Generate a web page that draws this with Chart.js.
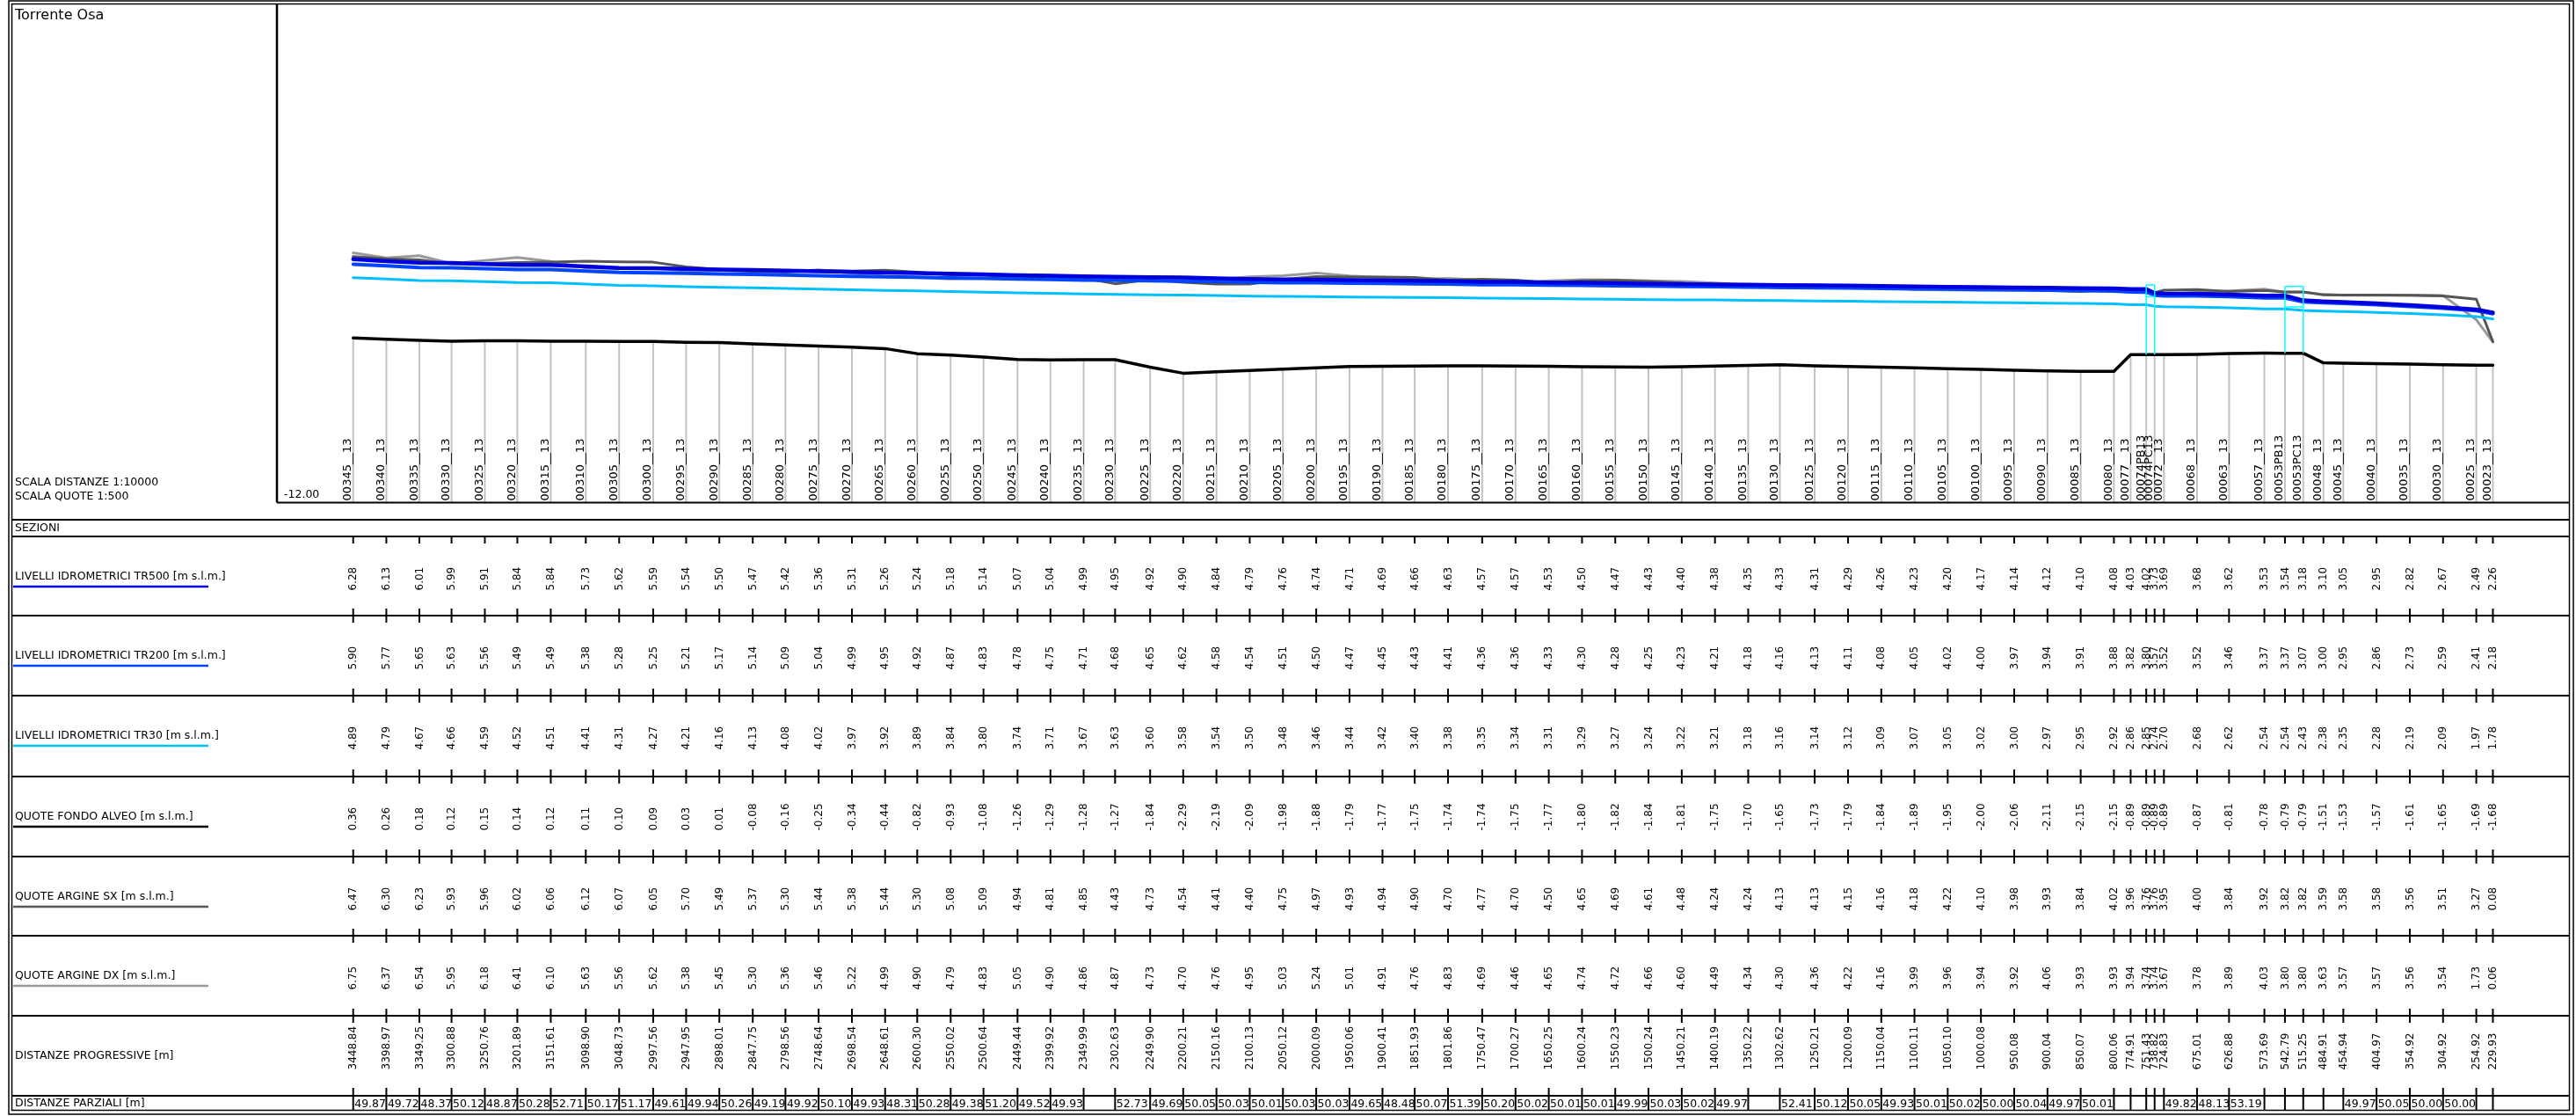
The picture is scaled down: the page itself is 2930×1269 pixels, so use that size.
<!DOCTYPE html>
<html>
<head>
<meta charset="utf-8">
<title>Torrente Osa - profilo longitudinale</title>
<script src="https://cdn.jsdelivr.net/npm/chart.js@4.4.1/dist/chart.umd.min.js"></script>
<style>
  html, body { margin: 0; padding: 0; background: #fff; }
  canvas { display: block; }
</style>
</head>
<body>
<canvas id="profilo" width="2930" height="1269"></canvas>
<script>
  const sezioni = ['00345__13', '00340__13', '00335__13', '00330__13', '00325__13', '00320__13', '00315__13', '00310__13', '00305__13', '00300__13',
    '00295__13', '00290__13', '00285__13', '00280__13', '00275__13', '00270__13', '00265__13', '00260__13', '00255__13', '00250__13',
    '00245__13', '00240__13', '00235__13', '00230__13', '00225__13', '00220__13', '00215__13', '00210__13', '00205__13', '00200__13',
    '00195__13', '00190__13', '00185__13', '00180__13', '00175__13', '00170__13', '00165__13', '00160__13', '00155__13', '00150__13',
    '00145__13', '00140__13', '00135__13', '00130__13', '00125__13', '00120__13', '00115__13', '00110__13', '00105__13', '00100__13',
    '00095__13', '00090__13', '00085__13', '00080__13', '00077__13', '00074PB13', '00074PC13', '00072__13', '00068__13', '00063__13',
    '00057__13', '00053PB13', '00053PC13', '00048__13', '00045__13', '00040__13', '00035__13', '00030__13', '00025__13', '00023__13'];

  const progressive = [3448.84, 3398.97, 3349.25, 3300.88, 3250.76, 3201.89, 3151.61, 3098.90, 3048.73, 2997.56,
    2947.95, 2898.01, 2847.75, 2798.56, 2748.64, 2698.54, 2648.61, 2600.30, 2550.02, 2500.64,
    2449.44, 2399.92, 2349.99, 2302.63, 2249.90, 2200.21, 2150.16, 2100.13, 2050.12, 2000.09,
    1950.06, 1900.41, 1851.93, 1801.86, 1750.47, 1700.27, 1650.25, 1600.24, 1550.23, 1500.24,
    1450.21, 1400.19, 1350.22, 1302.62, 1250.21, 1200.09, 1150.04, 1100.11, 1050.10, 1000.08,
    950.08, 900.04, 850.07, 800.06, 774.91, 751.43, 738.82, 724.83, 675.01, 626.88,
    573.69, 542.79, 515.25, 484.91, 454.94, 404.97, 354.92, 304.92, 254.92, 229.93];

  // distanze parziali (null = cella vuota nella tavola)
  const parziali = [49.87, 49.72, 48.37, 50.12, 48.87, 50.28, 52.71, 50.17, 51.17, 49.61,
    49.94, 50.26, 49.19, 49.92, 50.10, 49.93, 48.31, 50.28, 49.38, 51.20,
    49.52, 49.93, null, 52.73, 49.69, 50.05, 50.03, 50.01, 50.03, 50.03,
    49.65, 48.48, 50.07, 51.39, 50.20, 50.02, 50.01, 50.01, 49.99, 50.03,
    50.02, 49.97, null, 52.41, 50.12, 50.05, 49.93, 50.01, 50.02, 50.00,
    50.04, 49.97, 50.01, null, null, null, null, 49.82, 48.13, 53.19,
    null, null, null, null, 49.97, 50.05, 50.00, 50.00, null];

  const tr500 = [6.28, 6.13, 6.01, 5.99, 5.91, 5.84, 5.84, 5.73, 5.62, 5.59,
    5.54, 5.50, 5.47, 5.42, 5.36, 5.31, 5.26, 5.24, 5.18, 5.14,
    5.07, 5.04, 4.99, 4.95, 4.92, 4.90, 4.84, 4.79, 4.76, 4.74,
    4.71, 4.69, 4.66, 4.63, 4.57, 4.57, 4.53, 4.50, 4.47, 4.43,
    4.40, 4.38, 4.35, 4.33, 4.31, 4.29, 4.26, 4.23, 4.20, 4.17,
    4.14, 4.12, 4.10, 4.08, 4.03, 4.02, 3.73, 3.69, 3.68, 3.62,
    3.53, 3.54, 3.18, 3.10, 3.05, 2.95, 2.82, 2.67, 2.49, 2.26];

  const tr200 = [5.90, 5.77, 5.65, 5.63, 5.56, 5.49, 5.49, 5.38, 5.28, 5.25,
    5.21, 5.17, 5.14, 5.09, 5.04, 4.99, 4.95, 4.92, 4.87, 4.83,
    4.78, 4.75, 4.71, 4.68, 4.65, 4.62, 4.58, 4.54, 4.51, 4.50,
    4.47, 4.45, 4.43, 4.41, 4.36, 4.36, 4.33, 4.30, 4.28, 4.25,
    4.23, 4.21, 4.18, 4.16, 4.13, 4.11, 4.08, 4.05, 4.02, 4.00,
    3.97, 3.94, 3.91, 3.88, 3.82, 3.80, 3.57, 3.52, 3.52, 3.46,
    3.37, 3.37, 3.07, 3.00, 2.95, 2.86, 2.73, 2.59, 2.41, 2.18];

  const tr30 = [4.89, 4.79, 4.67, 4.66, 4.59, 4.52, 4.51, 4.41, 4.31, 4.27,
    4.21, 4.16, 4.13, 4.08, 4.02, 3.97, 3.92, 3.89, 3.84, 3.80,
    3.74, 3.71, 3.67, 3.63, 3.60, 3.58, 3.54, 3.50, 3.48, 3.46,
    3.44, 3.42, 3.40, 3.38, 3.35, 3.34, 3.31, 3.29, 3.27, 3.24,
    3.22, 3.21, 3.18, 3.16, 3.14, 3.12, 3.09, 3.07, 3.05, 3.02,
    3.00, 2.97, 2.95, 2.92, 2.86, 2.85, 2.74, 2.70, 2.68, 2.62,
    2.54, 2.54, 2.43, 2.38, 2.35, 2.28, 2.19, 2.09, 1.97, 1.78];

  const fondo = [0.36, 0.26, 0.18, 0.12, 0.15, 0.14, 0.12, 0.11, 0.10, 0.09,
    0.03, 0.01, -0.08, -0.16, -0.25, -0.34, -0.44, -0.82, -0.93, -1.08,
    -1.26, -1.29, -1.28, -1.27, -1.84, -2.29, -2.19, -2.09, -1.98, -1.88,
    -1.79, -1.77, -1.75, -1.74, -1.74, -1.75, -1.77, -1.80, -1.82, -1.84,
    -1.81, -1.75, -1.70, -1.65, -1.73, -1.79, -1.84, -1.89, -1.95, -2.00,
    -2.06, -2.11, -2.15, -2.15, -0.89, -0.89, -0.89, -0.89, -0.87, -0.81,
    -0.78, -0.79, -0.79, -1.51, -1.53, -1.57, -1.61, -1.65, -1.69, -1.68];

  const argineSx = [6.47, 6.30, 6.23, 5.93, 5.96, 6.02, 6.06, 6.12, 6.07, 6.05,
    5.70, 5.49, 5.37, 5.30, 5.44, 5.38, 5.44, 5.30, 5.08, 5.09,
    4.94, 4.81, 4.85, 4.43, 4.73, 4.54, 4.41, 4.40, 4.75, 4.97,
    4.93, 4.94, 4.90, 4.70, 4.77, 4.70, 4.50, 4.65, 4.69, 4.61,
    4.48, 4.24, 4.24, 4.13, 4.13, 4.15, 4.16, 4.18, 4.22, 4.10,
    3.98, 3.93, 3.84, 4.02, 3.96, 3.76, 3.76, 3.95, 4.00, 3.84,
    3.92, 3.82, 3.82, 3.59, 3.58, 3.58, 3.56, 3.51, 3.27, 0.08];

  const argineDx = [6.75, 6.37, 6.54, 5.95, 6.18, 6.41, 6.10, 5.63, 5.56, 5.62,
    5.38, 5.45, 5.30, 5.36, 5.46, 5.22, 4.99, 4.90, 4.79, 4.83,
    5.05, 4.90, 4.86, 4.87, 4.73, 4.70, 4.76, 4.95, 5.03, 5.24,
    5.01, 4.91, 4.76, 4.83, 4.69, 4.46, 4.65, 4.74, 4.72, 4.66,
    4.60, 4.49, 4.34, 4.30, 4.36, 4.22, 4.16, 3.99, 3.96, 3.94,
    3.92, 4.06, 3.93, 3.93, 3.94, 3.74, 3.74, 3.67, 3.78, 3.89,
    4.03, 3.80, 3.80, 3.63, 3.57, 3.57, 3.56, 3.54, 1.73, 0.06];

  // ponti (impalcato stimato dal disegno)
  const pontiMonte = ['00074PB13', '00053PB13'];
  const pontiValle = ['00074PC13', '00053PC13'];
  const intradosso = [3.46, 2.69];
  const estradosso = [4.34, 4.23];

  const quotaRiferimento = -12.00;

  const COL_TR500 = '#0000DD';
  const COL_TR200 = '#0044FF';
  const COL_TR30 = '#00BFFF';
  const COL_FONDO = '#000000';
  const COL_SX = '#555555';
  const COL_DX = '#9A9A9A';

  const FONT = '"DejaVu Sans", Verdana, sans-serif';

  // righe della tabella: [alto, basso]
  const righe = [
    { label: 'LIVELLI IDROMETRICI TR500 [m s.l.m.]', valori: tr500, colore: COL_TR500, y0: 610, y1: 700 },
    { label: 'LIVELLI IDROMETRICI TR200 [m s.l.m.]', valori: tr200, colore: COL_TR200, y0: 700, y1: 791 },
    { label: 'LIVELLI IDROMETRICI TR30 [m s.l.m.]', valori: tr30, colore: COL_TR30, y0: 791, y1: 883 },
    { label: 'QUOTE FONDO ALVEO [m s.l.m.]', valori: fondo, colore: COL_FONDO, y0: 883, y1: 974 },
    { label: 'QUOTE ARGINE SX [m s.l.m.]', valori: argineSx, colore: COL_SX, y0: 974, y1: 1064 },
    { label: 'QUOTE ARGINE DX [m s.l.m.]', valori: argineDx, colore: COL_DX, y0: 1064, y1: 1155 },
    { label: 'DISTANZE PROGRESSIVE [m]', valori: progressive, colore: null, y0: 1155, y1: 1246 }
  ];

  function testoVerticale(ctx, txt, x, y) {
    ctx.save();
    ctx.translate(x, y);
    ctx.rotate(-Math.PI / 2);
    ctx.fillText(txt, 0, 0);
    ctx.restore();
  }

  function linea(ctx, x0, y0, x1, y1) {
    ctx.beginPath();
    ctx.moveTo(x0, y0);
    ctx.lineTo(x1, y1);
    ctx.stroke();
  }

  const tavola = {
    id: 'tavola',
    beforeDraw(chart) {
      const ctx = chart.ctx;
      ctx.save();
      ctx.fillStyle = '#fff';
      ctx.fillRect(0, 0, chart.width, chart.height);
      ctx.restore();
    },
    beforeDatasetsDraw(chart) {
      const ctx = chart.ctx;
      const xs = chart.scales.x, ys = chart.scales.y;
      const base = ys.getPixelForValue(quotaRiferimento);
      ctx.save();
      // linee di sezione
      ctx.strokeStyle = '#C2C2C2';
      ctx.lineWidth = 2;
      progressive.forEach((d, i) => {
        const x = xs.getPixelForValue(d);
        linea(ctx, x, ys.getPixelForValue(fondo[i]), x, base);
      });
      // nomi sezioni
      ctx.fillStyle = '#000';
      ctx.font = '13px ' + FONT;
      ctx.textAlign = 'left';
      ctx.textBaseline = 'alphabetic';
      sezioni.forEach((s, i) => {
        const x = xs.getPixelForValue(progressive[i]);
        testoVerticale(ctx, s, x - 2.5, base - 2);
      });
      ctx.restore();
    },
    afterDatasetsDraw(chart) {
      const ctx = chart.ctx;
      const xs = chart.scales.x, ys = chart.scales.y;
      ctx.save();
      ctx.strokeStyle = '#00FFFF';
      ctx.lineWidth = 1.5;
      pontiMonte.forEach((m, k) => {
        const a = sezioni.indexOf(m), b = sezioni.indexOf(pontiValle[k]);
        const xa = xs.getPixelForValue(progressive[a]);
        const xb = xs.getPixelForValue(progressive[b]);
        const yt = ys.getPixelForValue(estradosso[k]);
        const yi = ys.getPixelForValue(intradosso[k]);
        linea(ctx, xa, yt, xb, yt);
        linea(ctx, xa, yi, xb, yi);
        linea(ctx, xa, yt, xa, ys.getPixelForValue(fondo[a]));
        linea(ctx, xb, yt, xb, ys.getPixelForValue(fondo[b]));
      });
      ctx.restore();
    },
    afterDraw(chart) {
      const ctx = chart.ctx;
      const xs = chart.scales.x, ys = chart.scales.y;
      const area = chart.chartArea;
      const L = 13.5, R = 2922.5;
      const xSez = progressive.map(d => xs.getPixelForValue(d));
      ctx.save();
      ctx.strokeStyle = '#000';
      ctx.fillStyle = '#000';

      // cornice doppia
      ctx.lineWidth = 1.5;
      ctx.strokeRect(10, 1, 2917, 1266);
      ctx.strokeRect(L, 4.5, R - L, 1258);

      // riquadro grafico
      ctx.lineWidth = 2.5;
      linea(ctx, area.left, area.top, area.left, area.bottom);
      ctx.lineWidth = 2;
      linea(ctx, area.left, area.bottom, R, area.bottom);

      // linee orizzontali della tabella
      [591, 610, 700, 791, 883, 974, 1064, 1155, 1246].forEach(y => linea(ctx, L, y, R, y));

      // intestazioni a sinistra
      ctx.textAlign = 'left';
      ctx.textBaseline = 'middle';
      ctx.font = '16px ' + FONT;
      ctx.fillText('Torrente Osa', 17, 18);
      ctx.font = '12.5px ' + FONT;
      ctx.fillText('SCALA DISTANZE 1:10000', 17, 549);
      ctx.fillText('SCALA QUOTE 1:500', 17, 565);
      ctx.fillText('SEZIONI', 17, 601);
      ctx.fillText(quotaRiferimento.toFixed(2), 323, 563);

      righe.forEach(r => {
        ctx.fillStyle = '#000';
        ctx.fillText(r.label, 17, r.y0 + 46);
        if (r.colore) {
          ctx.strokeStyle = r.colore;
          ctx.lineWidth = 2.5;
          linea(ctx, 15, r.y0 + 57, 237, r.y0 + 57);
        }
      });
      ctx.fillStyle = '#000';
      ctx.fillText('DISTANZE PARZIALI [m]', 17, 1255);

      // tacche
      ctx.strokeStyle = '#000';
      ctx.lineWidth = 2;
      xSez.forEach(x => {
        linea(ctx, x, 610, x, 618);
        [700, 791, 883, 974, 1064, 1155].forEach(y => linea(ctx, x, y - 8, x, y + 8));
        linea(ctx, x, 1237, x, 1262.5);
      });

      // valori verticali
      ctx.font = '12px ' + FONT;
      ctx.textAlign = 'left';
      ctx.textBaseline = 'middle';
      righe.forEach(r => {
        r.valori.forEach((v, i) => {
          testoVerticale(ctx, v.toFixed(2), xSez[i] + 0.5, r.y0 + 61.5);
        });
      });

      // distanze parziali
      ctx.font = '12.5px ' + FONT;
      ctx.textBaseline = 'alphabetic';
      parziali.forEach((p, i) => {
        if (p === null) return;
        ctx.fillText(p.toFixed(2), xSez[i] + 1.5, 1259);
      });
      ctx.restore();
    }
  };

  const punti = valori => progressive.map((d, i) => ({ x: d, y: valori[i] }));

  const ctx = document.getElementById('profilo').getContext('2d');
  const profilo = new Chart(ctx, {
    type: 'line',
    data: {
      datasets: [
        { label: 'TR500', data: punti(tr500), borderColor: COL_TR500, borderWidth: 4.5 },
        { label: 'TR200', data: punti(tr200), borderColor: COL_TR200, borderWidth: 4 },
        { label: 'TR30', data: punti(tr30), borderColor: COL_TR30, borderWidth: 3 },
        { label: 'Fondo alveo', data: punti(fondo), borderColor: COL_FONDO, borderWidth: 3.5 },
        { label: 'Argine SX', data: punti(argineSx), borderColor: COL_SX, borderWidth: 3 },
        { label: 'Argine DX', data: punti(argineDx), borderColor: COL_DX, borderWidth: 3 }
      ]
    },
    options: {
      responsive: false,
      animation: false,
      devicePixelRatio: 1,
      layout: { padding: { left: 315, right: 7.5, top: 5, bottom: 697.6 } },
      elements: {
        point: { radius: 0, hoverRadius: 0 },
        line: { tension: 0, borderJoinStyle: 'round', borderCapStyle: 'round', fill: false }
      },
      plugins: { legend: { display: false }, tooltip: { enabled: false } },
      scales: {
        x: { type: 'linear', reverse: true, min: 114.84, max: 3563.53, display: false },
        y: { type: 'linear', min: -12, max: 25.41, display: false }
      }
    },
    plugins: [tavola]
  });
</script>
</body>
</html>
